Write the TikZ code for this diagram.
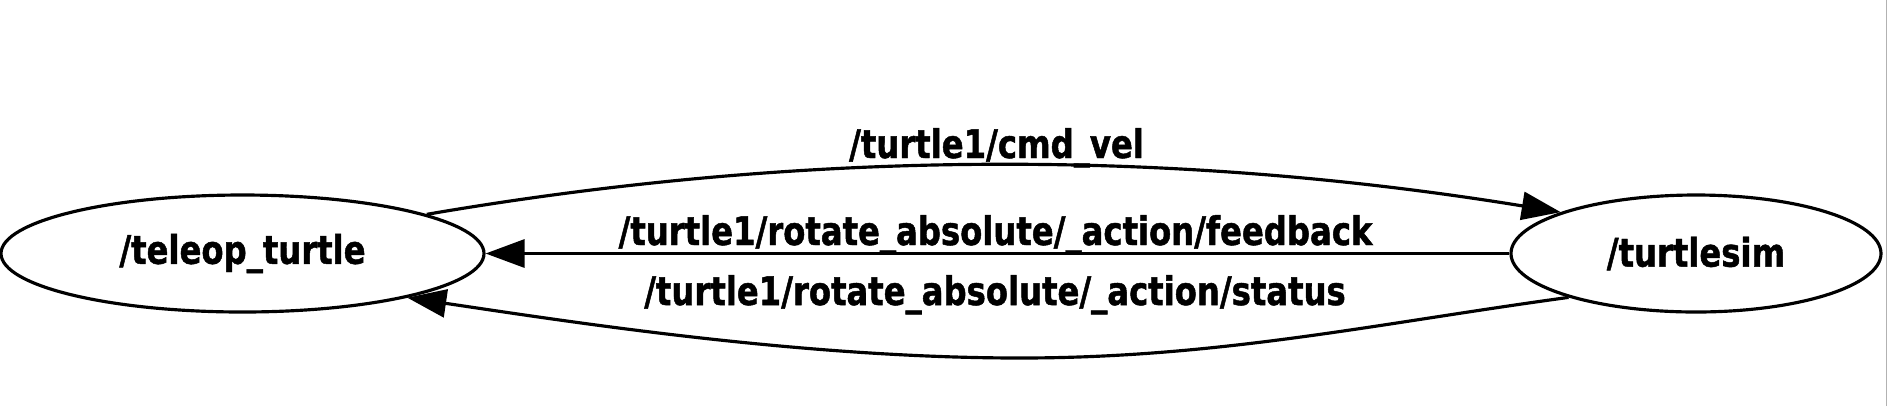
\documentclass[tikz,border=0pt]{standalone}
\usepackage{fontspec}
\usetikzlibrary{shapes, arrows.meta}
\newfontfamily\graphfont[FakeStretch=0.82, BoldFeatures={FakeBold=1.2}]{DejaVu Sans}
\tikzset{
  rosnode/.style={
    ellipse, draw=black, line width=0.9pt, inner sep=0pt,
    minimum height=1.17cm,
    font=\graphfont\bfseries\fontsize{11.2}{13}\selectfont,
  },
  topic/.style={
    -{Triangle[length=3.9mm, width=2.8mm]}, line width=0.9pt, draw=black,
  },
  tlabel/.style={
    anchor=base, inner sep=0pt,
    font=\graphfont\bfseries\fontsize{11.2}{13}\selectfont,
  }
}
\begin{document}
\begin{tikzpicture}[scale=1.0]

  \useasboundingbox (0,-1.525) rectangle (18.87,2.535);

  \node[rosnode, minimum width=4.83cm] (teleop) at ( 2.425, 0) {/teleop\_turtle};
  \node[rosnode, minimum width=3.70cm] (turtlesim) at (16.96, 0) {/turtlesim};

  % cmd_vel goes over the top
  \draw[topic] (teleop.12.7) .. controls (8.07,1.045) and (11.73,1.045) .. (turtlesim.163.6);
  \draw[topic] (turtlesim.west) -- (teleop.east);
  % status comes back underneath
  \draw[topic] (turtlesim.199) .. controls (13.8,-0.695) and (12.2,-1.045) .. (10.2,-1.045)
    .. controls (8.0,-1.045) and (5.65,-0.675) .. (teleop.-15);

  \node[tlabel] (cmdvel) at (9.965, 0.955) {/turtle1/cmd\_vel};
  \node[tlabel] (feedback) at (9.955, 0.085) {/turtle1/rotate\_absolute/\_action/feedback};
  \node[tlabel] (status) at (9.95, -0.515) {/turtle1/rotate\_absolute/\_action/status};

  \draw[black!30, line width=0.01cm] (18.865,-1.525) -- (18.865,2.535);

\end{tikzpicture}
\end{document}
